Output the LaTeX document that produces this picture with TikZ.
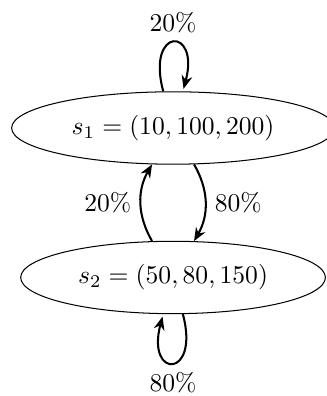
\documentclass[tikz,border=0pt]{standalone}
\usetikzlibrary{shapes.geometric,arrows.meta}
\begin{document}
\begin{tikzpicture}[>={Stealth[length=5.2pt,width=4.2pt]},
  state/.style={ellipse, draw, inner sep=5pt},
  trans/.style={thick, ->},
  every loop/.style={->, shorten >=1pt, looseness=8.8}]
\useasboundingbox (0,0) rectangle (127.7pt,-154.7pt);
\node[state] (s1) at (67.6pt,-50pt) {$s_1 = (10, 100, 200)$};
\node[state] (s2) at (67.6pt,-108.4pt) {$s_2 = (50, 80, 150)$};
\path[trans]
  (s1) edge[loop above] node {20\%} (s1)
  (s1) edge[bend left] node[auto] {80\%} (s2)
  (s2) edge[bend left] node[auto] {20\%} (s1)
  (s2) edge[loop below] node {80\%} (s2);
\end{tikzpicture}
\end{document}
